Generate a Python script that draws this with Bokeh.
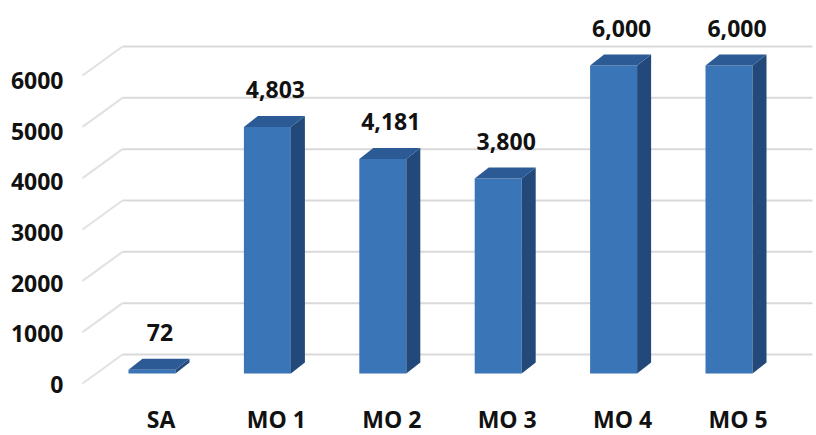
from bokeh.plotting import figure
from bokeh.models import Range1d, LinearAxis, FixedTicker, ColumnDataSource
from bokeh.core.properties import value
from bokeh.embed import file_html
from bokeh.resources import INLINE

# ---------------- data ----------------
categories = ["SA", "MO 1", "MO 2", "MO 3", "MO 4", "MO 5"]
values = [72, 4803, 4181, 3800, 6000, 6000]
y_ticks = [0, 1000, 2000, 3000, 4000, 5000, 6000]

# ---------------- layout (pixels) ----------------
W, H = 816, 435
FRAME_LEFT = 75
X0_PX = 151.5      # centre of first bar's front face
X_STEP_PX = 115.4  # distance between categories
Y0_PX = 373        # baseline of bars' front face
Y_SCALE = 0.05133  # px per unit
BAR_W_PX = 47
DEPTH_X_PX, DEPTH_Y_PX = 14, 11          # bar depth
WALL_FRONT_X_PX, WALL_BACK_X_PX, WALL_RIGHT_PX = 82, 122, 812
WALL_FRONT_DY_PX, WALL_BACK_DY_PX = -10, 19   # relative to bar front plane
LABEL_Y_SCALE = 0.0507
LABEL_Y0_PX = 384

FONT = "Open Sans"
BLUE_FRONT = "#3a75b8"
BLUE_SIDE = "#22497a"
BLUE_TOP = "#2c5a94"
GRID = "#d9d9d9"


def ux(px):
    return px / X_STEP_PX


def uy(px):
    return px / Y_SCALE


def px_to_x(px):
    return (px - X0_PX) / X_STEP_PX


x_range = Range1d(px_to_x(FRAME_LEFT), px_to_x(W))
y_range = Range1d(-(H - Y0_PX) / Y_SCALE, Y0_PX / Y_SCALE)

p = figure(width=W, height=H, x_range=x_range, y_range=y_range,
           output_backend="svg", toolbar_location=None,
           x_axis_location=None, y_axis_location=None,
           min_border_left=FRAME_LEFT, min_border_right=0,
           min_border_top=0, min_border_bottom=0)
p.outline_line_color = None
p.grid.visible = False
p.background_fill_color = "white"
p.border_fill_color = "white"

# y axis placed on the side-wall front edge
p.extra_y_ranges = {"wall": Range1d(-(H - LABEL_Y0_PX) / LABEL_Y_SCALE,
                                    LABEL_Y0_PX / LABEL_Y_SCALE)}
yaxis = LinearAxis(y_range_name="wall", ticker=FixedTicker(ticks=y_ticks))
yaxis.axis_line_color = None
yaxis.major_tick_line_color = None
yaxis.minor_tick_line_color = None
yaxis.major_tick_in = 0
yaxis.major_tick_out = 0
yaxis.major_label_standoff = 12
yaxis.major_label_text_font = FONT
yaxis.major_label_text_font_style = "bold"
yaxis.major_label_text_font_size = "23px"
yaxis.major_label_text_color = "#111111"
p.add_layout(yaxis, "left")

# ---------------- walls ----------------
xb_left = px_to_x(WALL_BACK_X_PX)
xb_right = px_to_x(WALL_RIGHT_PX)
xf_left = px_to_x(WALL_FRONT_X_PX)
back_dy = uy(WALL_BACK_DY_PX)
front_dy = uy(WALL_FRONT_DY_PX)

p.segment(x0=[xb_left] * len(y_ticks), x1=[xb_right] * len(y_ticks),
          y0=[t + back_dy for t in y_ticks], y1=[t + back_dy for t in y_ticks],
          line_color=GRID, line_width=2)
p.segment(x0=[xf_left] * len(y_ticks), x1=[xb_left] * len(y_ticks),
          y0=[t + front_dy for t in y_ticks], y1=[t + back_dy for t in y_ticks],
          line_color=GRID, line_width=2, line_alpha=0.8)

# ---------------- bars ----------------
xs_idx = list(range(len(categories)))
bw = ux(BAR_W_PX)
ddx, ddy = ux(DEPTH_X_PX), uy(DEPTH_Y_PX)
lefts = [i - bw / 2 for i in xs_idx]
rights = [i + bw / 2 for i in xs_idx]

p.quad(left=lefts, right=rights, bottom=[0] * len(values), top=values,
       fill_color=BLUE_FRONT, line_color=None)
p.patches(xs=[[r, r + ddx, r + ddx, r] for r in rights],
          ys=[[0, ddy, v + ddy, v] for v in values],
          fill_color=BLUE_SIDE, line_color=None)
p.patches(xs=[[l, r, r + ddx, l + ddx] for l, r in zip(lefts, rights)],
          ys=[[v, v, v + ddy, v + ddy] for v in values],
          fill_color=BLUE_TOP, line_color=None)

# ---------------- labels ----------------
val_src = ColumnDataSource(dict(x=xs_idx, y=values,
                                t=[f"{v:,}" for v in values]))
p.text(x="x", y="y", text="t", source=val_src, x_offset=8, y_offset=-37,
       text_align="center", text_baseline="middle",
       text_font=value(FONT), text_font_style="bold",
       text_font_size="23px", text_color="#111111")

cat_src = ColumnDataSource(dict(x=xs_idx, y=[0] * len(categories), t=categories))
p.text(x="x", y="y", text="t", source=cat_src, x_offset=9, y_offset=45,
       text_align="center", text_baseline="middle",
       text_font=value(FONT), text_font_style="bold",
       text_font_size="23px", text_color="#111111")

open("out.html", "w").write(file_html(p, INLINE))
